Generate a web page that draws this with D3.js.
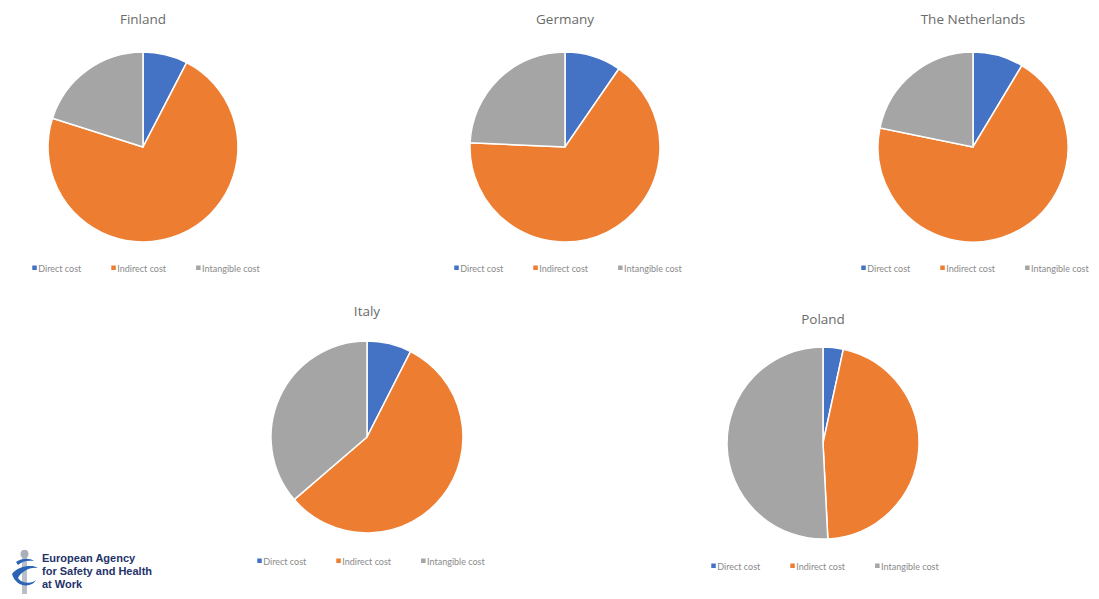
<!DOCTYPE html>
<html>
<head>
<meta charset="utf-8">
<script src="https://cdn.jsdelivr.net/npm/d3@7"></script>
<style>
  html, body { margin: 0; padding: 0; background: #ffffff; }
  svg { display: block; }
</style>
</head>
<body>
<svg id="chart" width="1099" height="599"></svg>
<script>
// Cost breakdown per country (% of total)
const countries = ["Finland", "Germany", "The Netherlands", "Italy", "Poland"];
const categories = ["Direct cost", "Indirect cost", "Intangible cost"];
const directCost = [7.6, 9.6, 8.6, 7.5, 3.4];
const indirectCost = [72.3, 66.1, 69.6, 56.2, 45.8];
const intangibleCost = [20.1, 24.3, 21.8, 36.3, 50.8];
const colors = ["#4472C4", "#ED7D31", "#A5A5A5"];

// Panel placement for each country
const panels = [
  { cx: 143, cy: 147, r: 95, titleY: 24, legendX: 146, legendY: 269 },
  { cx: 565, cy: 147, r: 95, titleY: 24, legendX: 568, legendY: 269 },
  { cx: 973, cy: 147, r: 95, titleY: 24, legendX: 975, legendY: 269 },
  { cx: 367, cy: 437, r: 96, titleY: 316, legendX: 371, legendY: 562 },
  { cx: 823, cy: 443, r: 96, titleY: 324, legendX: 825, legendY: 567 }
];

const svg = d3.select("#chart");
const color = d3.scaleOrdinal().domain(categories).range(colors);
const pie = d3.pie().sort(null).value(d => d.value);

countries.forEach((name, i) => {
  const p = panels[i];
  const rows = [
    { key: categories[0], value: directCost[i] },
    { key: categories[1], value: indirectCost[i] },
    { key: categories[2], value: intangibleCost[i] }
  ];
  const arc = d3.arc().innerRadius(0).outerRadius(p.r);
  const g = svg.append("g").attr("transform", `translate(${p.cx},${p.cy})`);

  g.selectAll("path")
    .data(pie(rows))
    .join("path")
    .attr("d", arc)
    .attr("fill", d => color(d.data.key))
    .attr("stroke", "#ffffff")
    .attr("stroke-width", 1.5);

  svg.append("text")
    .attr("x", p.cx)
    .attr("y", p.titleY)
    .attr("text-anchor", "middle")
    .attr("font-family", "'Open Sans', Lato, sans-serif")
    .attr("font-size", 13.5)
    .attr("fill", "#6b6b6b")
    .text(name);

  // Legend row, centred under the pie
  const lg = svg.append("g");
  let x = 0;
  categories.forEach((c, k) => {
    const item = lg.append("g").attr("transform", `translate(${x},0)`);
    item.append("rect")
      .attr("x", 0).attr("y", -3.5)
      .attr("width", 4.5).attr("height", 4.5)
      .attr("fill", color(c));
    const t = item.append("text")
      .attr("x", 6).attr("y", 2.5)
      .attr("font-family", "Lato, 'Open Sans', sans-serif")
      .attr("font-size", 9)
      .attr("fill", "#8a8a8a")
      .text(c);
    x += 6 + t.node().getComputedTextLength() + 30;
  });
  const w = x - 30;
  lg.attr("transform", `translate(${p.legendX - w / 2},${p.legendY})`);
});

// Agency logo, bottom left
const logo = svg.append("g").attr("transform", "translate(8,548)");
logo.append("path")
  .attr("d", "M14,2 L19,2 L19,46 L14,46 Z")
  .attr("fill", "#b9bfc8");
logo.append("circle").attr("cx", 16.5).attr("cy", 6).attr("r", 4).attr("fill", "#a9b0ba");
logo.append("path")
  .attr("d", "M4,26 C10,18 24,16 30,20 C24,19 14,22 10,30 C14,36 24,36 28,32 C24,40 8,40 4,26 Z")
  .attr("fill", "#2b63b5");
logo.append("path")
  .attr("d", "M8,14 C14,10 22,10 26,13 C20,12 14,13 10,17 Z")
  .attr("fill", "#2b63b5");
const logoText = ["European Agency", "for Safety and Health", "at Work"];
logo.selectAll("text.logo")
  .data(logoText)
  .join("text")
  .attr("class", "logo")
  .attr("x", 34)
  .attr("y", (d, k) => 14 + k * 13)
  .attr("font-family", "'Liberation Sans Narrow', 'Arial Narrow', sans-serif")
  .attr("font-weight", "bold")
  .attr("font-size", 11)
  .attr("fill", "#24336a")
  .text(d => d);
</script>
</body>
</html>
